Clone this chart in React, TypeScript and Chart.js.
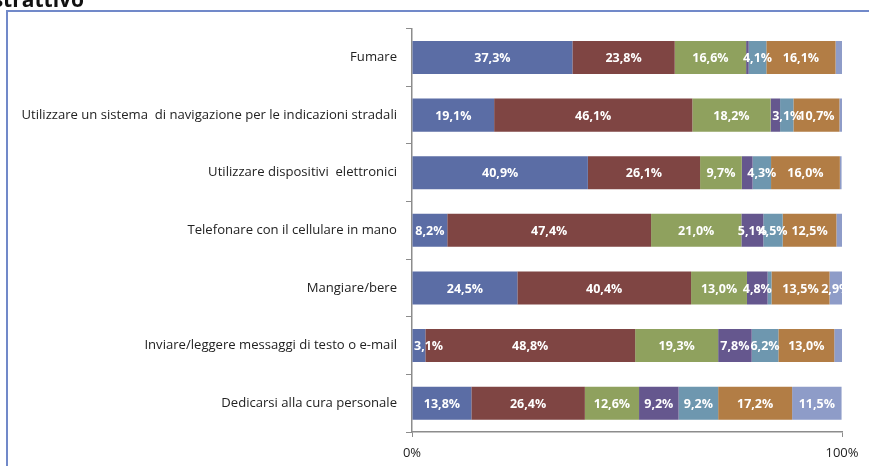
import React, { useEffect, useRef } from "react";
import { Chart, registerables } from "chart.js";

Chart.register(...registerables);

const categories = [
  "Fumare",
  "Utilizzare un sistema  di navigazione per le indicazioni stradali",
  "Utilizzare dispositivi  elettronici",
  "Telefonare con il cellulare in mano",
  "Mangiare/bere",
  "Inviare/leggere messaggi di testo o e-mail",
  "Dedicarsi alla cura personale",
];

const serie1 = [37.3, 19.1, 40.9, 8.2, 24.5, 3.1, 13.8];
const serie2 = [23.8, 46.1, 26.1, 47.4, 40.4, 48.8, 26.4];
const serie3 = [16.6, 18.2, 9.7, 21.0, 13.0, 19.3, 12.6];
const serie4 = [0.6, 2.2, 2.5, 5.1, 4.8, 7.8, 9.2];
const serie5 = [4.1, 3.1, 4.3, 4.5, 0.9, 6.2, 9.2];
const serie6 = [16.1, 10.7, 16.0, 12.5, 13.5, 13.0, 17.2];
const serie7 = [1.5, 0.6, 0.4, 1.3, 2.9, 1.8, 11.5];

const seriesValues = [serie1, serie2, serie3, serie4, serie5, serie6, serie7];
const seriesColors = ["#5B6DA5", "#7F4543", "#8FA15E", "#65578E", "#6E97AF", "#B27D45", "#8E9CC8"];

const xTicks = [0, 100];
const titleText = "distrattivo";

const FONT = "'Open Sans', Lato, sans-serif";

export default function App() {
  const ref = useRef<HTMLCanvasElement>(null);

  useEffect(() => {
    const canvas = ref.current!;
    const decor = {
      id: "decor",
      beforeDraw(chart: any) {
        const ctx = chart.ctx;
        ctx.save();
        ctx.strokeStyle = "#7189C9";
        ctx.lineWidth = 2;
        ctx.beginPath();
        ctx.moveTo(7, 470);
        ctx.lineTo(7, 11);
        ctx.lineTo(875, 11);
        ctx.stroke();
        ctx.fillStyle = "#111";
        ctx.font = `bold 21px ${FONT}`;
        ctx.textAlign = "right";
        ctx.textBaseline = "alphabetic";
        ctx.fillText(titleText, 84, 7);
        ctx.restore();
      },
      afterDatasetsDraw(chart: any) {
        const ctx = chart.ctx;
        const area = chart.chartArea;
        ctx.save();
        ctx.fillStyle = "#ffffff";
        ctx.font = `bold 12.5px ${FONT}`;
        ctx.textAlign = "center";
        ctx.textBaseline = "middle";
        chart.data.datasets.forEach((ds: any, di: number) => {
          const meta = chart.getDatasetMeta(di);
          meta.data.forEach((el: any, i: number) => {
            const v = ds.data[i];
            if (v < 2.8) return;
            const txt = v.toFixed(1).replace(".", ",") + "%";
            const w = ctx.measureText(txt).width;
            let cx = (el.x + el.base) / 2;
            if (cx - w / 2 < area.left + 2) cx = area.left + 2 + w / 2;
            ctx.fillText(txt, cx, el.y + 1);
          });
        });
        ctx.restore();
      },
    };

    const chart = new Chart(canvas, {
      type: "bar",
      data: {
        labels: categories,
        datasets: seriesValues.map((vals, i) => ({
          label: "S" + (i + 1),
          data: vals,
          backgroundColor: seriesColors[i],
          borderWidth: 0,
          barPercentage: 0.573,
          categoryPercentage: 1,
        })),
      },
      options: {
        indexAxis: "y",
        responsive: false,
        animation: false,
        devicePixelRatio: 1,
        layout: { padding: { top: 28.7, right: 27, bottom: 0, left: 0 } },
        plugins: {
          legend: { display: false },
          tooltip: { enabled: false },
          title: { display: false },
        },
        scales: {
          x: {
            stacked: true,
            min: 0,
            max: 100,
            afterFit(scale: any) {
              scale.height = 34;
            },
            afterBuildTicks(scale: any) {
              scale.ticks = xTicks.map((v) => ({ value: v }));
            },
            ticks: {
              callback: (v: any) => v + "%",
              color: "#222",
              font: { family: FONT, size: 13 },
              padding: 8,
              maxRotation: 0,
            },
            grid: {
              drawOnChartArea: false,
              drawTicks: true,
              tickLength: 5,
              color: "#8c8c8c",
            },
            border: { display: true, color: "#8c8c8c", width: 1.5 },
          },
          y: {
            stacked: true,
            afterFit(scale: any) {
              scale.width = 412;
            },
            ticks: {
              color: "#222",
              font: { family: FONT, size: 13.1 },
              padding: 9,
            },
            grid: {
              offset: true,
              drawOnChartArea: false,
              drawTicks: true,
              tickLength: 6,
              color: "#8c8c8c",
            },
            border: { display: true, color: "#8c8c8c", width: 1.5 },
          },
        },
      },
      plugins: [decor],
    } as any);
    return () => chart.destroy();
  }, []);

  return (
    <div style={{ position: "fixed", left: 0, top: 0, width: 869, height: 466, background: "#fff" }}>
      <canvas ref={ref} width={869} height={466} style={{ display: "block" }} />
    </div>
  );
}
